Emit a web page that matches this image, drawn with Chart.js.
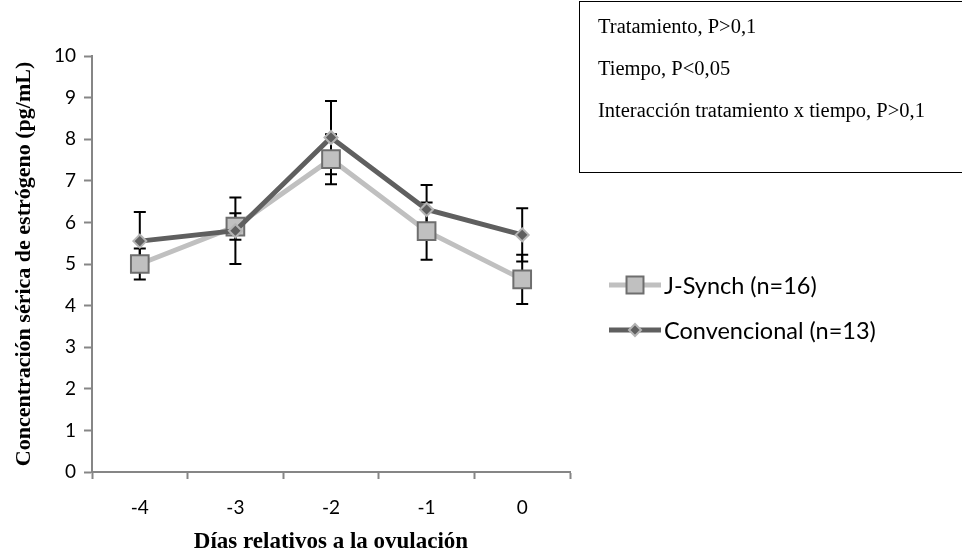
<!DOCTYPE html>
<html>
<head>
<meta charset="utf-8">
<script src="https://cdn.jsdelivr.net/npm/chart.js@4.4.0/dist/chart.umd.min.js"></script>
<style>
	html, body { margin: 0; padding: 0; background: #ffffff; }
	#wrap { position: relative; width: 962px; height: 553px; }
</style>
</head>
<body>
<div id="wrap"><canvas id="chartPreview" width="962" height="553"></canvas></div>
<script>
// data
const days = ['-4', '-3', '-2', '-1', '0'];
const jSynch = [5.0, 5.9, 7.52, 5.79, 4.63];
const jSynchErr = [0.37, 0.32, 0.6, 0.69, 0.59];
const convencional = [5.55, 5.8, 8.04, 6.31, 5.7];
const convencionalErr = [0.7, 0.8, 0.88, 0.59, 0.64];
const yTicks = [0, 1, 2, 3, 4, 5, 6, 7, 8, 9, 10];
const seriesNames = ['J-Synch (n=16)', 'Convencional (n=13)'];
const noteLines = ['Tratamiento, P>0,1', 'Tiempo, P<0,05', 'Interacción tratamiento x tiempo, P>0,1'];

const axisColor = '#868686';
const tickFont = { family: 'Lato', size: 19 };

// error bars, drawn under the lines
const errorBars = {
	id: 'errorBars',
	beforeDatasetsDraw(chart) {
		const ctx = chart.ctx;
		const y = chart.scales.y;
		ctx.save();
		ctx.strokeStyle = '#000000';
		ctx.lineWidth = 2;
		chart.data.datasets.forEach((ds, i) => {
			const meta = chart.getDatasetMeta(i);
			meta.data.forEach((pt, j) => {
				const v = ds.data[j];
				const e = ds.errors[j];
				const top = y.getPixelForValue(v + e);
				const bot = y.getPixelForValue(v - e);
				ctx.beginPath();
				ctx.moveTo(pt.x, top);
				ctx.lineTo(pt.x, bot);
				ctx.moveTo(pt.x - 6, top);
				ctx.lineTo(pt.x + 6, top);
				ctx.moveTo(pt.x - 6, bot);
				ctx.lineTo(pt.x + 6, bot);
				ctx.stroke();
			});
		});
		ctx.restore();
	}
};

// axis titles, legend and the note box
const decorations = {
	id: 'decorations',
	afterDraw(chart) {
		const ctx = chart.ctx;
		const area = chart.chartArea;
		ctx.save();

		// axis titles
		ctx.fillStyle = '#000000';
		ctx.font = 'bold 23px "Liberation Serif"';
		ctx.textAlign = 'center';
		ctx.textBaseline = 'alphabetic';
		ctx.fillText('Días relativos a la ovulación', (area.left + area.right) / 2, 548);
		ctx.save();
		ctx.font = 'bold 22px "Liberation Serif"';
		ctx.translate(30, (area.top + area.bottom) / 2);
		ctx.rotate(-Math.PI / 2);
		ctx.fillText('Concentración sérica de estrógeno (pg/mL)', 0, 0);
		ctx.restore();

		// legend
		const rows = [285, 330];
		chart.data.datasets.forEach((ds, i) => {
			const ly = rows[i];
			ctx.strokeStyle = ds.borderColor;
			ctx.lineWidth = ds.borderWidth;
			ctx.beginPath();
			ctx.moveTo(609, ly);
			ctx.lineTo(661, ly);
			ctx.stroke();
			ctx.fillStyle = ds.pointBackgroundColor;
			ctx.strokeStyle = ds.pointBorderColor;
			ctx.lineWidth = ds.pointBorderWidth;
			Chart.helpers.drawPoint(ctx, {
				pointStyle: ds.pointStyle,
				rotation: 0,
				radius: i === 0 ? 12 : 6,
				borderWidth: ds.pointBorderWidth
			}, 635, ly);
			ctx.fillStyle = '#000000';
			ctx.font = '23.5px Lato';
			ctx.textAlign = 'left';
			ctx.textBaseline = 'middle';
			ctx.fillText(ds.label, 664, ly + 1);
		});

		// note box
		ctx.strokeStyle = '#000000';
		ctx.lineWidth = 1;
		ctx.strokeRect(579.5, 1.5, 400, 171);
		ctx.fillStyle = '#000000';
		ctx.font = '20.5px "Liberation Serif"';
		ctx.textAlign = 'left';
		ctx.textBaseline = 'middle';
		noteLines.forEach((t, i) => {
			ctx.fillText(t, 598, 28 + i * 42);
		});
		ctx.restore();
	}
};

const chart = new Chart(document.getElementById('chartPreview').getContext('2d'), {
	type: 'line',
	data: {
		labels: days,
		datasets: [
			{
				label: seriesNames[0],
				data: jSynch,
				errors: jSynchErr,
				borderColor: '#c0c0c0',
				borderWidth: 5,
				pointStyle: 'rect',
				pointRadius: 12.5,
				pointBackgroundColor: '#c0c0c0',
				pointBorderColor: '#6e6e6e',
				pointBorderWidth: 2,
				order: 1
			},
			{
				label: seriesNames[1],
				data: convencional,
				errors: convencionalErr,
				borderColor: '#5f5f5f',
				borderWidth: 5,
				pointStyle: 'rectRot',
				pointRadius: 6.5,
				pointBackgroundColor: '#5f5f5f',
				pointBorderColor: '#b4b4b4',
				pointBorderWidth: 2,
				order: 0
			}
		]
	},
	options: {
		responsive: false,
		animation: false,
		events: [],
		layout: { padding: { top: 56, right: 392, left: 0, bottom: 0 } },
		plugins: {
			legend: { display: false },
			tooltip: { enabled: false }
		},
		scales: {
			x: {
				type: 'category',
				offset: true,
				afterFit: (s) => { s.height = 81; },
				grid: {
					offset: true,
					drawOnChartArea: false,
					drawTicks: true,
					tickLength: 7,
					tickColor: axisColor,
					tickWidth: 2
				},
				border: { color: axisColor, width: 2 },
				ticks: { color: '#000000', font: tickFont, padding: 17 }
			},
			y: {
				min: 0,
				max: 10,
				afterFit: (s) => { s.width = 92; },
				afterBuildTicks: (s) => { s.ticks = yTicks.map(v => ({ value: v })); },
				grid: {
					drawOnChartArea: false,
					drawTicks: true,
					tickLength: 8,
					tickColor: axisColor,
					tickWidth: 2
				},
				border: { color: axisColor, width: 2 },
				ticks: { color: '#000000', font: tickFont, padding: 8 }
			}
		}
	},
	plugins: [errorBars, decorations]
});
</script>
</body>
</html>
